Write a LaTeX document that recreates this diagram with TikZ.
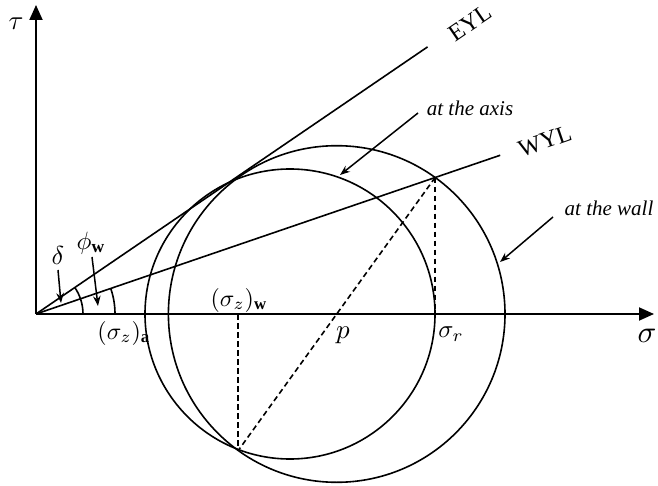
\documentclass[tikz,border=0pt]{standalone}
\usepackage{fontspec}
\setmainfont{Liberation Serif}
\usetikzlibrary{calc,arrows.meta}
\begin{document}
\begin{tikzpicture}[x=1pt,y=1pt,
  curve/.style={line width=1.6pt},
  axisline/.style={line width=1.9pt,-{Triangle[length=15pt,width=13pt]}},
  dashline/.style={line width=1.6pt,dash pattern=on 5.5pt off 3.5pt},
  ptr/.style={line width=1.5pt,-{Stealth[length=10pt,width=7.5pt]}},
  lbl/.style={inner sep=0pt,font=\normalsize},
  note/.style={inner sep=0pt,font=\fontsize{21}{24}\selectfont\itshape},
  yl/.style={inner sep=0pt,font=\fontsize{24}{26}\selectfont},
]
\useasboundingbox (0,0) rectangle (658,485);
\coordinate (O) at (36,171);
\coordinate (P) at (336.7,171);
\coordinate (C) at (290,171);
\coordinate (Ytop) at (36,480);
\coordinate (Xend) at (654,171);
\coordinate (A) at ($(P)+(54.2:168.3)$);
\coordinate (B) at ($(P)+(234.2:168.3)$);
\coordinate (E) at ($(O)+(34.3:474)$);
\coordinate (W) at ($(O)!1.163!(A)$);

% axes
\draw[axisline] (O) -- (Ytop);
\draw[axisline] (O) -- (Xend);
% Mohr circles
\draw[curve] (P) circle[radius=168.3];
\draw[curve] (C) circle[radius=145];
% yield loci
\draw[curve] (O) -- (E);
\draw[curve] (O) -- (W);
% dashed construction
\draw[dashline] (A) -- (A |- O);
\draw[dashline] (B |- O) -- (B);
\draw[dashline] (A) -- (B);
% angle arcs
\draw[curve] ($(O)+(47,0)$) arc[start angle=0,end angle=34.3,radius=47];
\draw[curve] ($(O)+(79,0)$) arc[start angle=0,end angle=18.9,radius=79];

% labels
\node[lbl,scale=2.7] (tau) at (16,461) {$\tau$};
\node[lbl,scale=3.1] (sig) at (647,149) {$\sigma$};
\node[yl,rotate=34.3] (eyl) at (470,462) {EYL};
\node[yl,rotate=19] (wyl) at (545,344) {WYL};
\node[note] (axis) at (470,377) {at the axis};
\node[note] (wall) at (609,277) {at the wall};
\node[lbl,scale=2.6] (delta) at (58,230) {$\delta$};
\node[lbl,scale=2.5] (phi) at (91,242) {$\phi_{\mathbf{w}}$};
\node[lbl,scale=2.4] (sza) at (124,152) {$(\sigma_z)_{\mathbf{a}}$};
\node[lbl,scale=2.4] (szw) at (239,185) {$(\sigma_z)_{\mathbf{w}}$};
\node[lbl,scale=2.7] (p) at (343,150) {$p$};
\node[lbl,scale=2.5] (sr) at (451,151) {$\sigma_r$};

% pointer arrows
\coordinate (axisS) at (418,372);
\coordinate (axisT) at (340,310);
\coordinate (wallS) at (553,268);
\coordinate (wallT) at (500,223);
\coordinate (deltaS) at (58,215);
\coordinate (deltaT) at (61,182);
\coordinate (phiS) at (92,228);
\coordinate (phiT) at (98,179);
\draw[ptr] (axisS) -- (axisT);
\draw[ptr] (wallS) -- (wallT);
\draw[ptr] (deltaS) -- (deltaT);
\draw[ptr] (phiS) -- (phiT);
\end{tikzpicture}
\end{document}
